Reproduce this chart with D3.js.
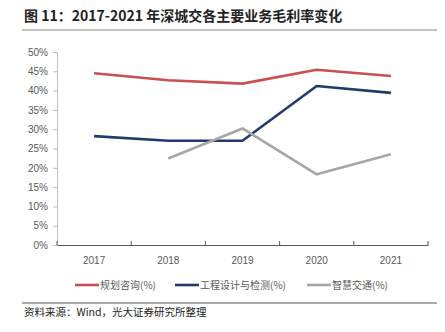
<!DOCTYPE html>
<html><head><meta charset="utf-8">
<script src="https://cdn.jsdelivr.net/npm/d3@7"></script>
<style>body{margin:0;background:#fff}svg{display:block}</style>
</head><body>
<script>
const years = ["2017","2018","2019","2020","2021"];
const planning = [44.5, 42.7, 41.8, 45.4, 43.8];
const engineering = [28.2, 27.0, 27.0, 41.2, 39.4];
const smartTraffic = [null, 22.4, 30.2, 18.3, 23.5];
const seriesNames = ["规划咨询(%)", "工程设计与检测(%)", "智慧交通(%)"];
const yTicks = [0,5,10,15,20,25,30,35,40,45,50];
const colors = ["#c9504f", "#1f3c6e", "#a6a6a6"];

const W=445,H=332;
const svg=d3.select("body").append("svg").attr("width",W).attr("height",H);
const font="'Noto Sans CJK SC','Noto Sans',sans-serif";

svg.append("text").attr("x",24).attr("y",21).attr("font-family",font).attr("font-size",14)
  .attr("font-weight","bold").attr("fill","#222").text("图 11：2017-2021 年深城交各主要业务毛利率变化");
svg.append("line").attr("x1",22).attr("x2",437).attr("y1",30).attr("y2",30).attr("stroke","#888").attr("stroke-width",1.2);

const x=d3.scaleBand().domain(years).range([57,428]);
const y=d3.scaleLinear().domain([0,50]).range([245,52]);

const yAxis=svg.append("g").attr("transform","translate(57,0)")
  .call(d3.axisLeft(y).tickValues(yTicks).tickFormat(d=>d+"%").tickSize(4).tickSizeOuter(0));
yAxis.select(".domain").attr("stroke","#bfbfbf");
yAxis.selectAll(".tick line").attr("stroke","#bfbfbf");
yAxis.selectAll("text").attr("font-family","'Liberation Sans',Arial,sans-serif").attr("font-size",10).attr("fill","#595959").attr("x",-9);

const xAxis=svg.append("g").attr("transform","translate(0,245)")
  .call(d3.axisBottom(x).tickSize(0).tickSizeOuter(0));
xAxis.select(".domain").attr("stroke","#595959");
xAxis.selectAll("text").attr("font-family","'Liberation Sans',Arial,sans-serif").attr("font-size",10).attr("fill","#595959").attr("dy","1.55em");
// boundary ticks
svg.append("g").selectAll("line").data(years.concat(["end"])).join("line")
  .attr("x1",(d,i)=>i<years.length?x(d):x.range()[1]).attr("x2",(d,i)=>i<years.length?x(d):x.range()[1])
  .attr("y1",245).attr("y2",241).attr("stroke","#595959");

const line=d3.line().defined(d=>d.v!=null).x(d=>x(d.k)+x.bandwidth()/2).y(d=>y(d.v));
[planning,engineering,smartTraffic].forEach((arr,i)=>{
  svg.append("path").datum(years.map((k,j)=>({k,v:arr[j]}))).attr("d",line)
   .attr("fill","none").attr("stroke",colors[i]).attr("stroke-width",2.6).attr("stroke-linejoin","round");
});

const legX=[75,175,307];
seriesNames.forEach((n,i)=>{
  svg.append("line").attr("x1",legX[i]).attr("x2",legX[i]+24).attr("y1",285).attr("y2",285).attr("stroke",colors[i]).attr("stroke-width",2.6);
  svg.append("text").attr("x",legX[i]+25).attr("y",289).attr("font-family",font).attr("font-size",10).attr("fill","#595959").text(n);
});

svg.append("line").attr("x1",22).attr("x2",437).attr("y1",303).attr("y2",303).attr("stroke","#555").attr("stroke-width",1);
svg.append("text").attr("x",24).attr("y",316).attr("font-family",font).attr("font-size",10.5).attr("fill","#222").text("资料来源：Wind，光大证券研究所整理");
</script>
</body></html>
